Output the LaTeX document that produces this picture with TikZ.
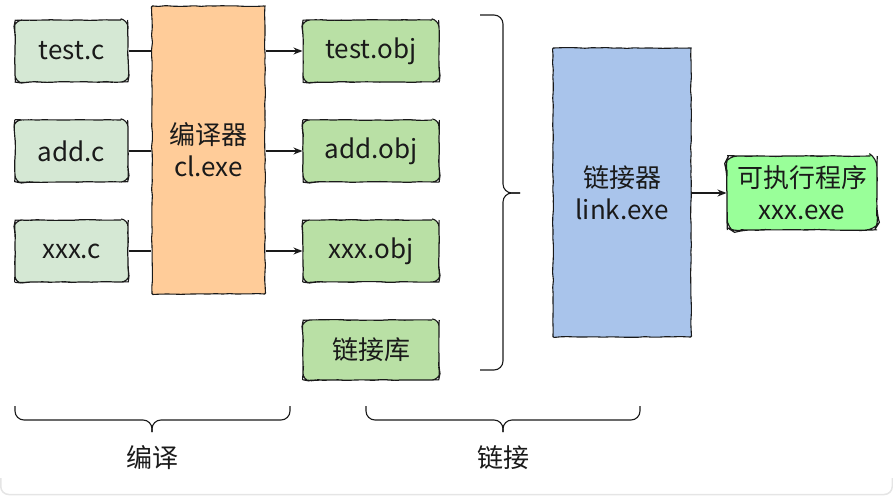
\documentclass[tikz,border=0pt]{standalone}
\usepackage{fontspec}
\setmainfont{Noto Sans CJK SC}
\usetikzlibrary{decorations.pathmorphing,arrows.meta}
\definecolor{srcfill}{HTML}{D5E8D4}
\definecolor{objfill}{HTML}{B9E0A5}
\definecolor{compfill}{HTML}{FFCC99}
\definecolor{linkfill}{HTML}{A9C4EB}
\definecolor{exefill}{HTML}{99FF99}
\definecolor{inkc}{HTML}{1A1A1A}
\begin{document}
\begin{tikzpicture}[x=1pt,y=-1pt,
  font=\fontsize{26}{32}\selectfont,
  sketch/.style={decorate,decoration={random steps,segment length=7pt,amplitude=0.45pt}},
  box/.style={draw=inkc,line width=1.1pt,sketch,inner sep=0pt,align=center,text=inkc},
  rbox/.style={box,rounded corners=7pt},
  srcbox/.style={rbox,fill=srcfill,minimum width=113pt,minimum height=62pt},
  objbox/.style={rbox,fill=objfill,minimum width=136pt,minimum height=62pt},
  tallbox/.style={box,rounded corners=1pt,minimum height=288pt},
  conn/.style={draw=inkc,line width=1.1pt},
  arr/.style={conn,-{Stealth[length=9pt,width=7pt]}},
  brace/.style={draw=inkc,line width=1.1pt,rounded corners=9pt},
  lbl/.style={inner sep=0pt,text=inkc}
]
\useasboundingbox (0,0) rectangle (893,497);
\pgfmathsetseed{7}
% frame edge
\draw[black!10,line width=1.5pt,rounded corners=8pt] (0.75,478) -- (0.75,494.5) -- (892.25,494.5) -- (892.25,478);
% source files
\node[srcbox] (s1) at (71.5,51) {test.c};
\node[srcbox] (s2) at (71.5,151) {add.c};
\node[srcbox] (s3) at (71.5,251) {xxx.c};
% compiler
\node[tallbox,fill=compfill,minimum width=113pt] (comp) at (208.5,150) {编译器\\cl.exe};
% objects
\node[objbox] (o1) at (371,51) {test.obj};
\node[objbox] (o2) at (371,151) {add.obj};
\node[objbox] (o3) at (371,251) {xxx.obj};
\node[objbox,minimum height=60pt] (lib) at (371,350) {链接库};
% linker
\node[tallbox,fill=linkfill,minimum width=138pt,minimum height=289pt] (link) at (622,192.5) {链接器\\link.exe};
% executable
\node[rbox,fill=exefill,minimum width=150pt,minimum height=74pt,rounded corners=9pt] (exe) at (802,193) {可执行程序\\xxx.exe};
% connectors
\foreach \s in {s1,s2,s3} \draw[conn] (\s.east) -- (\s.east -| comp.west);
\foreach \o in {o1,o2,o3} \draw[arr] (\o.west -| comp.east) -- (\o.west);
\draw[arr] (exe.west -| link.east) -- (exe.west);
% right brace
\coordinate (rbT) at (480,15);
\coordinate (rbB) at (480,370);
\coordinate (rbM) at (503,193);
\coordinate (rbTip) at (520,193);
\draw[brace] (rbT) -| (rbM) -- (rbTip);
\draw[brace] (rbB) -| (rbM) -- (rbTip);
% bottom braces
\coordinate (b1L) at (15,406);
\coordinate (b1R) at (290,406);
\coordinate (b1M) at (152,420);
\coordinate (b1Tip) at (152,432);
\draw[brace] (b1L) |- (b1M) -- (b1Tip);
\draw[brace] (b1R) |- (b1M) -- (b1Tip);
\coordinate (b2L) at (366,406);
\coordinate (b2R) at (640,406);
\coordinate (b2M) at (503,420);
\coordinate (b2Tip) at (503,432);
\draw[brace] (b2L) |- (b2M) -- (b2Tip);
\draw[brace] (b2R) |- (b2M) -- (b2Tip);
\node[lbl] (l1) at (152,458) {编译};
\node[lbl] (l2) at (503,458) {链接};
\end{tikzpicture}
\end{document}
